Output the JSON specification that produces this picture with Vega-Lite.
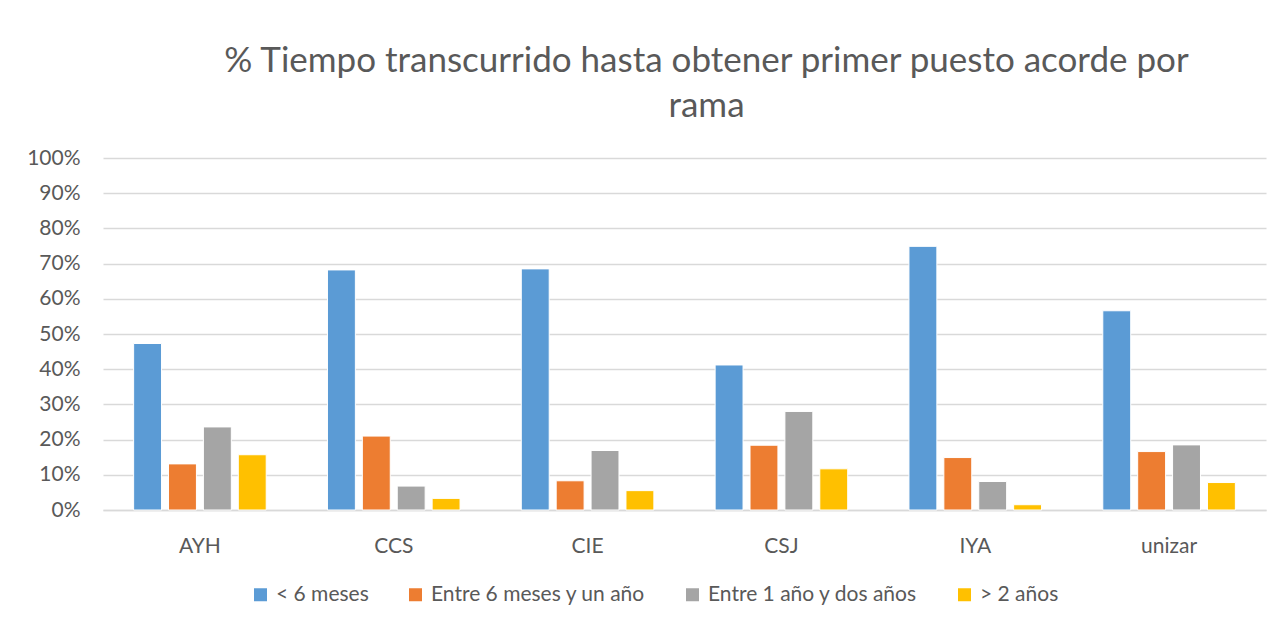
{
  "$schema": "https://vega.github.io/schema/vega-lite/v6.json",
  "width": 1163,
  "height": 352,
  "autosize": {"type": "none"},
  "padding": {"left": 103, "top": 158, "right": 16, "bottom": 114},
  "background": "white",
  "title": {
    "text": ["% Tiempo transcurrido hasta obtener primer puesto acorde por", "rama"],
    "font": "Lato",
    "fontSize": 35,
    "fontWeight": "normal",
    "color": "#595959",
    "anchor": "middle",
    "dx": 22,
    "lineHeight": 45,
    "offset": 23
  },
  "data": {
    "values": [
      {"rama": "AYH", "periodo": "< 6 meses", "valor": 0.473},
      {"rama": "AYH", "periodo": "Entre 6 meses y un año", "valor": 0.131},
      {"rama": "AYH", "periodo": "Entre 1 año y dos años", "valor": 0.236},
      {"rama": "AYH", "periodo": "> 2 años", "valor": 0.157},
      {"rama": "CCS", "periodo": "< 6 meses", "valor": 0.682},
      {"rama": "CCS", "periodo": "Entre 6 meses y un año", "valor": 0.210},
      {"rama": "CCS", "periodo": "Entre 1 año y dos años", "valor": 0.068},
      {"rama": "CCS", "periodo": "> 2 años", "valor": 0.033},
      {"rama": "CIE", "periodo": "< 6 meses", "valor": 0.685},
      {"rama": "CIE", "periodo": "Entre 6 meses y un año", "valor": 0.083},
      {"rama": "CIE", "periodo": "Entre 1 año y dos años", "valor": 0.169},
      {"rama": "CIE", "periodo": "> 2 años", "valor": 0.055},
      {"rama": "CSJ", "periodo": "< 6 meses", "valor": 0.412},
      {"rama": "CSJ", "periodo": "Entre 6 meses y un año", "valor": 0.184},
      {"rama": "CSJ", "periodo": "Entre 1 año y dos años", "valor": 0.280},
      {"rama": "CSJ", "periodo": "> 2 años", "valor": 0.117},
      {"rama": "IYA", "periodo": "< 6 meses", "valor": 0.749},
      {"rama": "IYA", "periodo": "Entre 6 meses y un año", "valor": 0.149},
      {"rama": "IYA", "periodo": "Entre 1 año y dos años", "valor": 0.081},
      {"rama": "IYA", "periodo": "> 2 años", "valor": 0.015},
      {"rama": "unizar", "periodo": "< 6 meses", "valor": 0.566},
      {"rama": "unizar", "periodo": "Entre 6 meses y un año", "valor": 0.166},
      {"rama": "unizar", "periodo": "Entre 1 año y dos años", "valor": 0.185},
      {"rama": "unizar", "periodo": "> 2 años", "valor": 0.078}
    ]
  },
  "mark": {"type": "bar", "stroke": "white", "strokeWidth": 1},
  "encoding": {
    "x": {
      "field": "rama",
      "type": "nominal",
      "sort": ["AYH", "CCS", "CIE", "CSJ", "IYA", "unizar"],
      "scale": {"paddingInner": 0.28, "paddingOuter": 0.14},
      "axis": {
        "title": null,
        "labelAngle": 0,
        "labelFont": "Lato",
        "labelFontSize": 21,
        "labelColor": "#595959",
        "labelPadding": 25,
        "ticks": false,
        "domainColor": "#D9D9D9",
        "domainWidth": 1.5
      }
    },
    "xOffset": {
      "field": "periodo",
      "type": "nominal",
      "sort": ["< 6 meses", "Entre 6 meses y un año", "Entre 1 año y dos años", "> 2 años"],
      "scale": {"paddingInner": 0.2, "paddingOuter": 0.1}
    },
    "y": {
      "field": "valor",
      "type": "quantitative",
      "scale": {"domain": [0, 1], "nice": false},
      "axis": {
        "title": null,
        "format": ".0%",
        "values": [0, 0.1, 0.2, 0.3, 0.4, 0.5, 0.6, 0.7, 0.8, 0.9, 1],
        "labelFont": "Lato",
        "labelFontSize": 21,
        "labelColor": "#595959",
        "labelPadding": 23,
        "ticks": false,
        "domain": false,
        "gridColor": "#D9D9D9",
        "gridWidth": 1.5
      }
    },
    "color": {
      "field": "periodo",
      "type": "nominal",
      "scale": {
        "domain": ["< 6 meses", "Entre 6 meses y un año", "Entre 1 año y dos años", "> 2 años"],
        "range": ["#5B9BD5", "#ED7D31", "#A5A5A5", "#FFC000"]
      },
      "legend": {
        "title": null,
        "orient": "none",
        "legendX": 147,
        "legendY": 426,
        "direction": "horizontal",
        "symbolType": "square",
        "symbolSize": 169,
        "symbolStrokeWidth": 0,
        "labelFont": "Lato",
        "labelFontSize": 21,
        "labelColor": "#595959",
        "labelOffset": 5,
        "columnPadding": 36,
        "labelLimit": 400
      }
    }
  },
  "config": {
    "view": {"stroke": null}
  }
}
